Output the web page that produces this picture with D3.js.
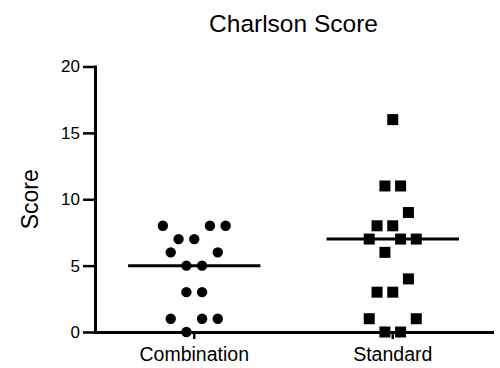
<!DOCTYPE html>
<html>
<head>
<meta charset="utf-8">
<script src="https://cdn.jsdelivr.net/npm/d3@7"></script>
<style>
  body { margin: 0; background: #fff; }
  svg { font-family: "Liberation Sans", Arial, sans-serif; }
</style>
</head>
<body>
<div id="chart"></div>
<script>
// groups on the x axis
const categories = ['Combination', 'Standard'];

// Charlson scores, with the column slot each dot sits in
const comboScores = [8, 8, 8, 7, 7, 6, 6, 5, 5, 3, 3, 1, 1, 1, 0];
const comboSlots = [-4, 2, 4, -2, 0, -3, 3, -1, 1, -1, 1, -3, 1, 3, -1];
const standardScores = [16, 11, 11, 9, 8, 8, 7, 7, 7, 6, 4, 3, 3, 1, 1, 0, 0];
const standardSlots = [0, -1, 1, 2, -2, 0, -3, 1, 3, -1, 2, -2, 0, -3, 3, -1, 1];

const yTicks = [0, 5, 10, 15, 20];

const width = 500, height = 368;
const margin = { top: 66.5, right: 8, bottom: 36, left: 95 };

const svg = d3.select('#chart').append('svg')
  .attr('width', width)
  .attr('height', height);

const x = d3.scaleBand().domain(categories).range([margin.left, width - margin.right]);
const y = d3.scaleLinear().domain([0, 20]).range([height - margin.bottom, margin.top]);
const bw = x.bandwidth();
const slot = d3.scaleLinear().domain([-4, 4]).range([-0.158 * bw, 0.158 * bw]);

const groups = [
  { name: 'Combination', scores: comboScores, slots: comboSlots, shape: 'circle' },
  { name: 'Standard', scores: standardScores, slots: standardSlots, shape: 'square' }
];

// title
svg.append('text')
  .attr('x', (margin.left + width - margin.right) / 2)
  .attr('y', 32)
  .attr('text-anchor', 'middle')
  .style('font-size', '24.5px')
  .text('Charlson Score');

// y label
svg.append('text')
  .attr('transform', `translate(38, ${(y(0) + y(20)) / 2}) rotate(-90)`)
  .attr('text-anchor', 'middle')
  .style('font-size', '23px')
  .text('Score');

// median lines
svg.append('g').selectAll('line')
  .data(groups)
  .enter().append('line')
  .attr('x1', d => x(d.name) + bw / 2 - bw / 3)
  .attr('x2', d => x(d.name) + bw / 2 + bw / 3)
  .attr('y1', d => y(d3.median(d.scores)))
  .attr('y2', d => y(d3.median(d.scores)))
  .attr('stroke', '#000')
  .attr('stroke-width', 3);

// dots
groups.forEach(g => {
  const pts = g.scores.map((v, i) => ({ v, s: g.slots[i] }));
  const cx = d => x(g.name) + bw / 2 + slot(d.s);
  if (g.shape === 'circle') {
    svg.append('g').selectAll('circle')
      .data(pts)
      .enter().append('circle')
      .attr('cx', cx)
      .attr('cy', d => y(d.v))
      .attr('r', 5.2)
      .attr('fill', '#000');
  } else {
    const s = 11;
    svg.append('g').selectAll('rect')
      .data(pts)
      .enter().append('rect')
      .attr('x', d => cx(d) - s / 2)
      .attr('y', d => y(d.v) - s / 2)
      .attr('width', s)
      .attr('height', s)
      .attr('fill', '#000');
  }
});

// y axis
const yAxis = svg.append('g')
  .attr('transform', `translate(${margin.left}, 0)`)
  .call(d3.axisLeft(y).tickValues(yTicks).tickSize(12).tickSizeOuter(0).tickPadding(3));
yAxis.select('.domain').attr('stroke-width', 3).attr('stroke-linecap', 'square');
yAxis.selectAll('.tick line').attr('stroke-width', 2.5);
yAxis.selectAll('.tick text').style('font-size', '17px').attr('fill', '#000').attr('font-family', null);

// x axis
const xAxis = svg.append('g')
  .attr('transform', `translate(0, ${y(0)})`)
  .call(d3.axisBottom(x).tickSize(7).tickSizeOuter(0).tickPadding(8));
xAxis.select('.domain').attr('stroke-width', 3).attr('stroke-linecap', 'square');
xAxis.selectAll('.tick line').attr('stroke-width', 2.5);
xAxis.selectAll('.tick text').style('font-size', '19.5px').attr('fill', '#000');
svg.selectAll('.tick text').attr('font-family', null);
svg.selectAll('g').filter(function () { return this.getAttribute('font-family'); })
  .attr('font-family', null).attr('font-size', null);
</script>
</body>
</html>
